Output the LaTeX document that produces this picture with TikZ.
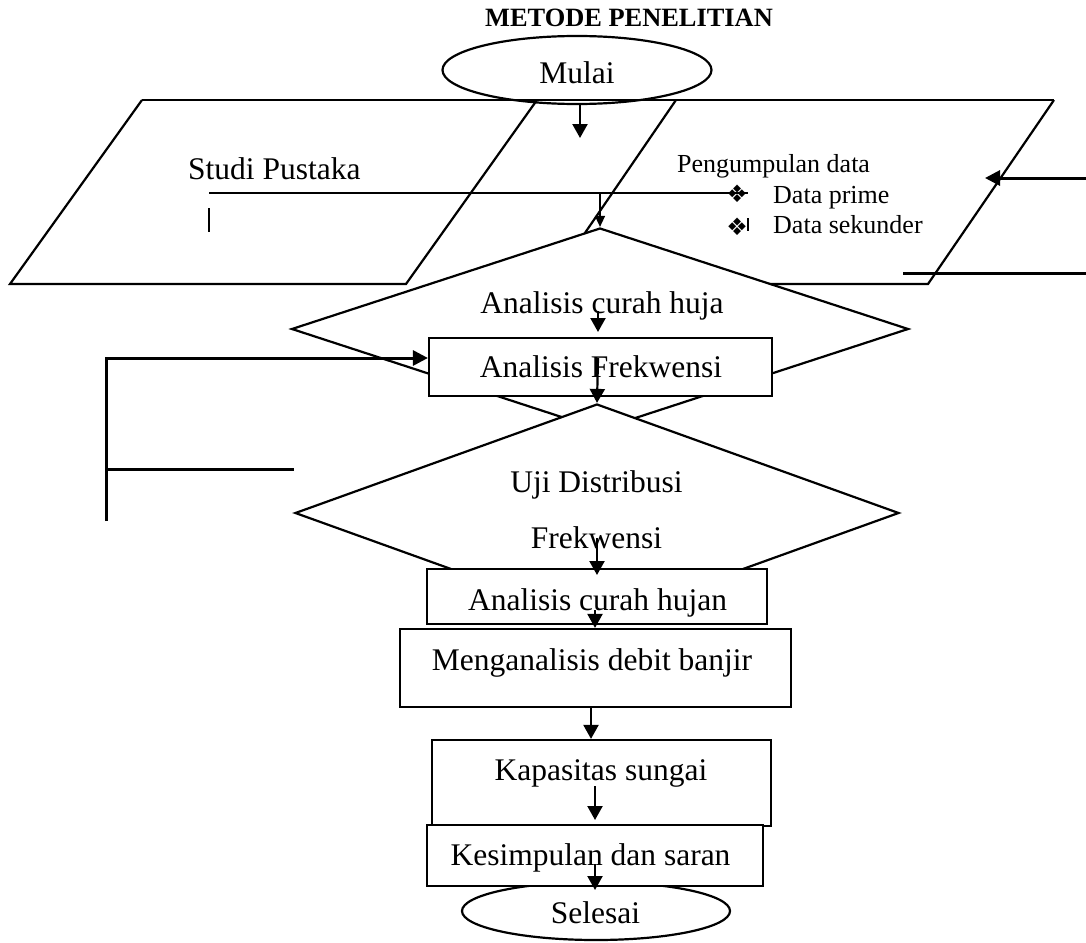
\documentclass[tikz,border=0pt]{standalone}
\usepackage{fontspec}
\setmainfont{Liberation Serif}
\newfontfamily\symfont{DejaVu Sans}
\usetikzlibrary{positioning,shapes.geometric,arrows.meta}

\tikzset{
  outline/.style={draw, line width=2.2pt, fill=white, inner sep=0pt},
  box/.style={outline, rectangle},
  oval/.style={outline, ellipse},
  decision/.style={outline, diamond},
  txt/.style={font=\fontsize{31.5}{36}\selectfont, anchor=base, inner sep=0pt},
  smalltxt/.style={font=\fontsize{26}{30}\selectfont, anchor=base west, inner sep=0pt},
  bullet/.style={font=\symfont\fontsize{24}{26}\selectfont, inner sep=0pt},
  arr/.style={line width=2.2pt, -{Triangle[length=14pt,width=15pt]}},
  thinarr/.style={line width=1.4pt, -{Triangle[length=11pt,width=10pt]}},
  loopline/.style={line width=3pt},
}

\begin{document}
\begin{tikzpicture}[x=1pt,y=-1pt]
    \useasboundingbox (0,0) rectangle (1086,942);
    % Title
    \node[font=\fontsize{26.4}{30}\selectfont\bfseries, anchor=base, inner sep=0pt] (judul) at (629,27) {METODE PENELITIAN};
    % Start
    \node[oval, fill=none, minimum width=269pt, minimum height=68pt] (mulai) at (577,70) {};
    \node[txt] (mulaitxt) at (577,83) {Mulai};
    % Input parallelograms
    \draw[line width=2.2pt] (142,100) -- (1054,100);
    \draw[line width=2.2pt] (537,100) -- (406,284) -- (10,284) -- (142,100);
    \draw[line width=2.2pt] (676,100) -- (550,284) -- (928,284) -- (1054,100);
    \node[txt, anchor=base west] (studi) at (188,179) {Studi Pustaka};
    \node[smalltxt] (kumpul) at (677,172) {Pengumpulan data};
    \node[smalltxt] (prime) at (773,203) {Data prime};
    \node[smalltxt] (sekunder) at (773,233) {Data sekunder};
    \node[bullet] (bullet1) at (737,194) {❖};
    \node[bullet] (bullet2) at (737,227) {❖};
    \coordinate (garis) at (209,193);
    \draw[line width=2.2pt] (garis) -- (garis -| bullet1.east);
    \draw[line width=1.6pt] (209,208) -- (209,232);
    \draw[line width=1.4pt] (748,218) -- (748,231);
    % Rainfall analysis
    \node[decision, minimum width=617pt, minimum height=202pt] (dia1) at (600,329) {};
    \node[txt] (dia1txt) at (602,313) {Analisis curah huja};
    % Frequency analysis
    \node[box, minimum width=343pt, minimum height=58pt] (frek) at (600.5,367) {};
    \node[txt] (frektxt) at (601,377) {Analisis Frekwensi};
    % Distribution test
    \node[decision, minimum width=604pt, minimum height=218pt] (dia2) at (597,513) {};
    \node[txt] (ujitxt) at (596.5,492) {Uji Distribusi};
    \node[txt] (ujitxt2) at (596.5,548) {Frekwensi};
    % Process boxes
    \node[box, minimum width=340pt, minimum height=55pt] (hujan) at (597,596.5) {};
    \node[txt] (hujantxt) at (597.5,610) {Analisis curah hujan};
    \node[box, minimum width=391pt, minimum height=78pt] (debit) at (595.5,668) {};
    \node[txt] (debittxt) at (592,670) {Menganalisis debit banjir};
    \node[box, minimum width=339pt, minimum height=86pt] (kapasitas) at (601.5,783) {};
    \node[txt] (kapasitastxt) at (601,780) {Kapasitas sungai};
    % End
    \node[oval, minimum width=268pt, minimum height=58pt] (selesai) at (596,911) {};
    \node[txt] (selesaitxt) at (595.5,923) {Selesai};
    \node[box, minimum width=336pt, minimum height=61pt] (simpul) at (595,855.5) {};
    \node[txt] (simpultxt) at (590.5,865) {Kesimpulan dan saran};
    % Feedback lines
    \coordinate (kiri) at (106,358);
    \draw[loopline, -{Triangle[length=15pt,width=15pt]}] (106,521) -- (kiri) -- (frek.west |- kiri);
    \draw[loopline] (106,469) -- (dia2.west |- 0,469);
    \coordinate (kanan) at (1086,178);
    \draw[loopline, -{Triangle[length=15pt,width=15pt]}] (kanan) -- (985,178);
    \draw[loopline] (903,273) -- (1086,273);
    % Arrows
    \draw[arr] (580,104) -- (580,138);
    \draw[thinarr] (dia1.north |- garis) -- (dia1.north);
    \draw[arr] (598,311) -- (598,332);
    \draw[arr] (598,358) -- (dia2.north);
    \draw[arr] (597,538) -- (597,575);
    \draw[arr] (595,610) -- (debit.north -| 595,0);
    \draw[arr] (debit.south -| 591,0) -- (kapasitas.north -| 591,0);
    \draw[arr] (595,786) -- (595,820);
    \draw[arr] (595,864) -- (595,890);
\end{tikzpicture}
\end{document}
